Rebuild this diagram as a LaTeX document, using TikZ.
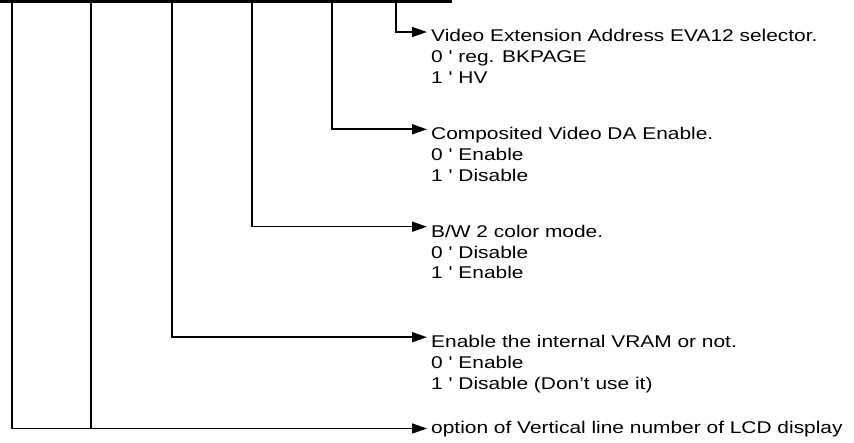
\documentclass[tikz,border=0pt]{standalone}
\usepackage{fontspec}
\setmainfont[FakeStretch=1.23,Ligatures=TeXOff]{Liberation Sans}
\usetikzlibrary{arrows.meta}
\begin{document}
\begin{tikzpicture}[x=1bp,y=-1bp,
  wire/.style={line width=1.6bp},
  conn/.style={wire,-{Triangle[length=15bp,width=10bp]}},
  toprule/.style={line width=2.6bp},
  tick/.style={line width=1.4bp},
  lbl/.style={anchor=base west,inner sep=0pt,align=left,
              font=\fontsize{17bp}{20.8bp}\selectfont},
  opts/.style={lbl}]
\useasboundingbox (0,0) rectangle (854,443);
% register bottom edge
\draw[toprule] (0,1.3) -- (451,1.3);
\draw[tick] (451,0) -- (451,2.6);
\foreach \x in {60,137,222,300,377} \draw[tick] (\x,0) -- (\x,1.5);
% bit positions
\coordinate (b0) at (396,0);
\coordinate (b1) at (332,0);
\coordinate (b2) at (252,0);
\coordinate (b3) at (172,0);
\coordinate (b4) at (91,0);
\coordinate (b5) at (12,0);
% titles (first lines)
\node[lbl] (t0) at (431,41.7) {Video Extension Address EVA12 selector.};
\node[lbl] (t1) at (431,140) {Composited Video DA Enable.};
\node[lbl] (t2) at (431,237.3) {B/W 2 color mode.};
\node[lbl] (t3) at (431,347.5) {Enable the internal VRAM or not.};
\node[lbl] (t4) at (431,433.3) {option of Vertical line number of LCD display};
% option lines (base anchor = last line)
\node[opts] (o0) at ([yshift=-41.6bp]t0.base west) {0 ' reg. BKPAGE\\1 ' HV};
\node[opts] (o1) at ([yshift=-41.6bp]t1.base west) {0 ' Enable\\1 ' Disable};
\node[opts] (o2) at ([yshift=-41.6bp]t2.base west) {0 ' Disable\\1 ' Enable};
\node[opts] (o3) at ([yshift=-41.6bp]t3.base west) {0 ' Enable\\1 ' Disable (Don’t use it)};
% connectors
\draw[conn] (b0) |- ([xshift=-4bp,yshift=9.7bp]t0.base west);
\draw[conn] (b1) |- ([xshift=-4bp,yshift=10.7bp]t1.base west);
\draw[conn] (b2) |- ([xshift=-4bp,yshift=10.6bp]t2.base west);
\draw[conn] (b3) |- ([xshift=-4bp,yshift=10.3bp]t3.base west);
\coordinate (e4) at ([xshift=-4bp,yshift=4.8bp]t4.base west);
\draw[conn] (b5) |- (e4);
\draw[wire] (b4) -- (b4 |- e4);
\end{tikzpicture}
\end{document}
